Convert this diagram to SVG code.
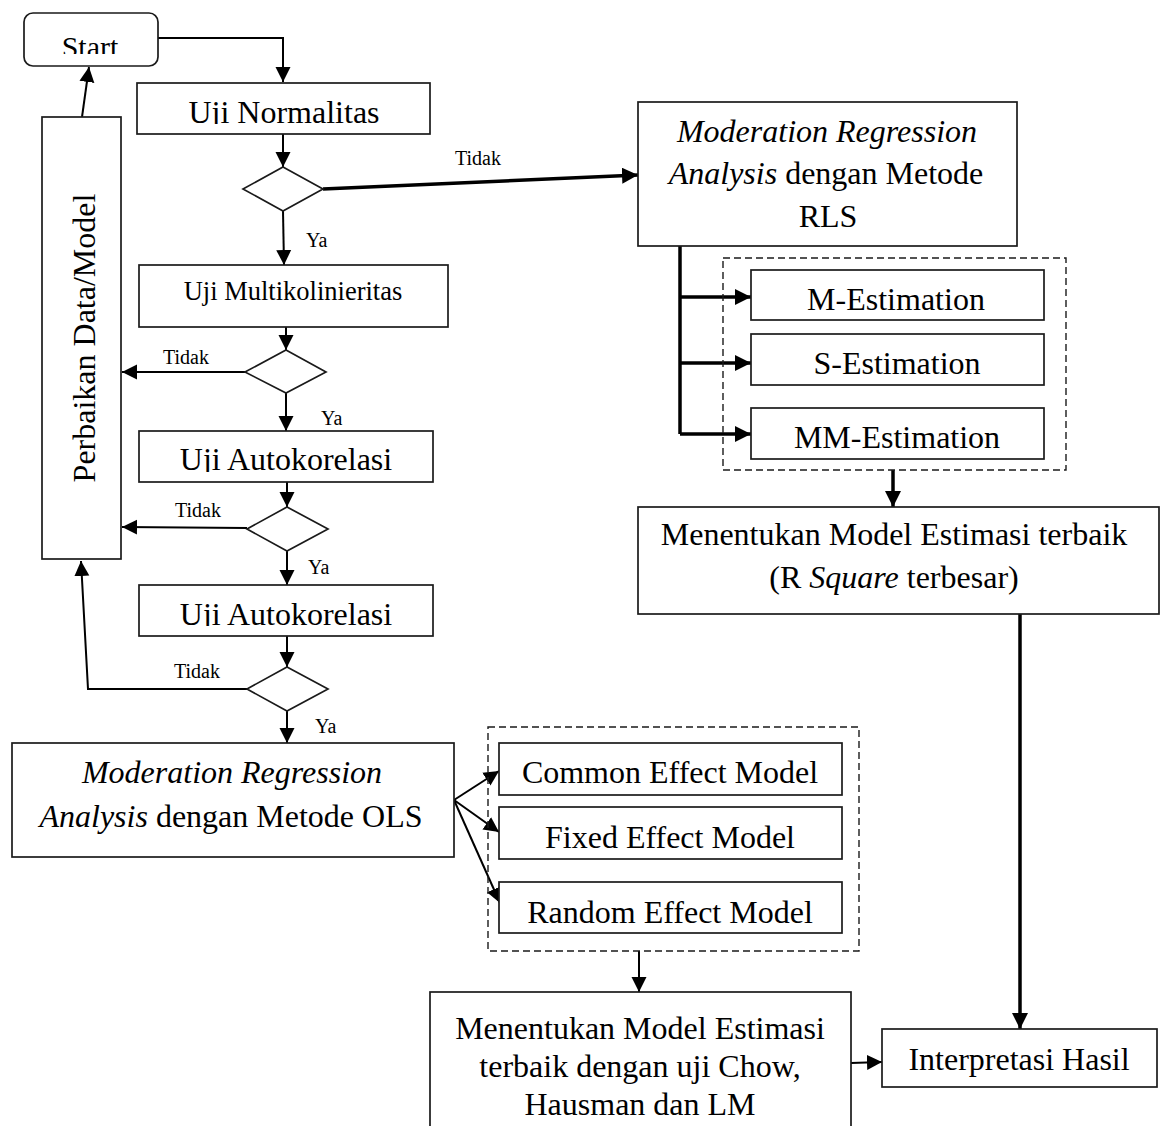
<svg xmlns="http://www.w3.org/2000/svg" width="1161" height="1126" viewBox="0 0 1161 1126">
<style>
.box{fill:#fff;stroke:#1a1a1a;stroke-width:1.7}
.dash{fill:none;stroke:#1a1a1a;stroke-width:1.4;stroke-dasharray:7 4}
.t{font-family:"Liberation Serif","Times New Roman",serif;font-size:32px;fill:#000;text-anchor:middle}
.s{font-family:"Liberation Serif","Times New Roman",serif;font-size:20px;fill:#000}
.ln{fill:none;stroke:#000;stroke-width:2}
.th{fill:none;stroke:#000;stroke-width:3.5}
.i{font-style:italic}
</style>
<defs>
<marker id="ah" viewBox="0 0 10 10" refX="10" refY="5" markerWidth="15" markerHeight="16" markerUnits="userSpaceOnUse" orient="auto"><path d="M0,0 L10,5 L0,10 z" fill="#000"/></marker>
<marker id="ahb" viewBox="0 0 10 10" refX="10" refY="5" markerWidth="16" markerHeight="16" markerUnits="userSpaceOnUse" orient="auto"><path d="M0,0 L10,5 L0,10 z" fill="#000"/></marker>
<clipPath id="cStart"><rect x="24" y="13" width="134" height="41"/></clipPath>
<clipPath id="cN"><rect x="137" y="83" width="293" height="41"/></clipPath>
<clipPath id="cA1"><rect x="139" y="431" width="294" height="41"/></clipPath>
<clipPath id="cA2"><rect x="139" y="585" width="294" height="41"/></clipPath>
</defs>

<g id="connectors">
<path class="ln" d="M153,38 H283 V82" marker-end="url(#ah)"/>
<line class="ln" x1="82" y1="117" x2="89" y2="67" marker-end="url(#ah)"/>
<line class="ln" x1="283" y1="134" x2="283" y2="167" marker-end="url(#ah)"/>
<line class="th" x1="323" y1="189" x2="638" y2="175" marker-end="url(#ahb)"/>
<text class="s" x="455" y="165">Tidak</text>
<line class="ln" x1="283" y1="211" x2="284" y2="265" marker-end="url(#ah)"/>
<text class="s" x="306" y="247">Ya</text>
<line class="ln" x1="286" y1="322" x2="286" y2="350" marker-end="url(#ah)"/>
<line class="ln" x1="245" y1="372" x2="122" y2="372" marker-end="url(#ah)"/>
<text class="s" x="163" y="364">Tidak</text>
<line class="ln" x1="286" y1="393" x2="286" y2="431" marker-end="url(#ah)"/>
<text class="s" x="321" y="425">Ya</text>
<line class="ln" x1="287" y1="482" x2="287" y2="507" marker-end="url(#ah)"/>
<line class="ln" x1="247" y1="528" x2="122" y2="527" marker-end="url(#ah)"/>
<text class="s" x="175" y="517">Tidak</text>
<line class="ln" x1="287" y1="551" x2="287" y2="585" marker-end="url(#ah)"/>
<text class="s" x="308" y="574">Ya</text>
<line class="ln" x1="287" y1="636" x2="287" y2="667" marker-end="url(#ah)"/>
<path class="ln" d="M247,689 H88 L81,561" marker-end="url(#ah)"/>
<text class="s" x="174" y="678">Tidak</text>
<line class="ln" x1="287" y1="711" x2="287" y2="743" marker-end="url(#ah)"/>
<text class="s" x="315" y="733">Ya</text>
<line class="ln" x1="454" y1="800" x2="499" y2="771" marker-end="url(#ah)"/>
<line class="ln" x1="454" y1="800" x2="499" y2="832" marker-end="url(#ah)"/>
<line class="ln" x1="454" y1="800" x2="500" y2="903" marker-end="url(#ah)"/>
<line class="ln" x1="639" y1="951" x2="639" y2="992" marker-end="url(#ah)"/>
<line class="ln" x1="851" y1="1063" x2="882" y2="1062" marker-end="url(#ah)"/>
<path class="th" d="M680,246 V434"/>
<line class="th" x1="680" y1="297" x2="751" y2="297" marker-end="url(#ahb)"/>
<line class="th" x1="680" y1="363" x2="751" y2="363" marker-end="url(#ahb)"/>
<line class="th" x1="680" y1="434" x2="751" y2="434" marker-end="url(#ahb)"/>
<line class="th" x1="893" y1="470" x2="893" y2="507" marker-end="url(#ahb)"/>
<line class="th" x1="1020" y1="614" x2="1020" y2="1029" marker-end="url(#ahb)"/>
</g>

<g id="start">
<rect class="box" x="24" y="13" width="134" height="53" rx="9"/>
<text class="t" x="90" y="57" clip-path="url(#cStart)" style="font-size:30px">Start</text>
</g>
<g id="perbaikan">
<rect class="box" x="42" y="117" width="79" height="442"/>
<text class="t" transform="translate(95,338) rotate(-90)">Perbaikan Data/Model</text>
</g>
<g id="uji-normalitas">
<rect class="box" x="137" y="83" width="293" height="51"/>
<text class="t" x="284" y="123" clip-path="url(#cN)">Uji Normalitas</text>
</g>
<g id="dec1"><polygon class="box" points="283,167 323,189 283,211 243,189"/></g>
<g id="uji-multi">
<rect class="box" x="139" y="265" width="309" height="62"/>
<text class="t" x="293" y="300" style="font-size:26.5px">Uji Multikolinieritas</text>
</g>
<g id="dec2"><polygon class="box" points="286,350 326,372 286,393 245,372"/></g>
<g id="uji-auto1">
<rect class="box" x="139" y="431" width="294" height="51"/>
<text class="t" x="286" y="470" clip-path="url(#cA1)">Uji Autokorelasi</text>
</g>
<g id="dec3"><polygon class="box" points="287,507 328,529 287,551 247,529"/></g>
<g id="uji-auto2">
<rect class="box" x="139" y="585" width="294" height="51"/>
<text class="t" x="286" y="625" clip-path="url(#cA2)">Uji Autokorelasi</text>
</g>
<g id="dec4"><polygon class="box" points="287,667 328,689 287,711 247,689"/></g>
<g id="ols">
<rect class="box" x="12" y="743" width="442" height="114"/>
<text class="t" x="232" y="783"><tspan class="i">Moderation Regression</tspan></text>
<text class="t" x="231" y="827"><tspan class="i">Analysis</tspan> dengan Metode OLS</text>
</g>
<g id="panel-group">
<rect class="dash" x="488" y="727" width="371" height="224"/>
</g>
<g id="common">
<rect class="box" x="499" y="743" width="343" height="52"/>
<text class="t" x="670" y="783">Common Effect Model</text>
</g>
<g id="fixed">
<rect class="box" x="499" y="807" width="343" height="52"/>
<text class="t" x="670" y="848">Fixed Effect Model</text>
</g>
<g id="random">
<rect class="box" x="499" y="882" width="343" height="51"/>
<text class="t" x="670" y="923">Random Effect Model</text>
</g>
<g id="menentukan2">
<rect class="box" x="430" y="992" width="421" height="140"/>
<text class="t" x="640" y="1039">Menentukan Model Estimasi</text>
<text class="t" x="640" y="1077">terbaik dengan uji Chow,</text>
<text class="t" x="640" y="1115">Hausman dan LM</text>
</g>
<g id="interpretasi">
<rect class="box" x="882" y="1029" width="275" height="58"/>
<text class="t" x="1019" y="1070">Interpretasi Hasil</text>
</g>
<g id="rls">
<rect class="box" x="638" y="102" width="379" height="144"/>
<text class="t" x="827" y="142"><tspan class="i">Moderation Regression</tspan></text>
<text class="t" x="826" y="184"><tspan class="i">Analysis</tspan> dengan Metode</text>
<text class="t" x="828" y="227">RLS</text>
</g>
<g id="robust-group">
<rect class="dash" x="723" y="258" width="343" height="212"/>
</g>
<g id="m-est">
<rect class="box" x="751" y="270" width="293" height="50"/>
<text class="t" x="896" y="310">M-Estimation</text>
</g>
<g id="s-est">
<rect class="box" x="751" y="334" width="293" height="51"/>
<text class="t" x="897" y="374">S-Estimation</text>
</g>
<g id="mm-est">
<rect class="box" x="751" y="408" width="293" height="51"/>
<text class="t" x="897" y="448">MM-Estimation</text>
</g>
<g id="menentukan1">
<rect class="box" x="638" y="507" width="521" height="107"/>
<text class="t" x="894" y="545">Menentukan Model Estimasi terbaik</text>
<text class="t" x="894" y="588">(R <tspan class="i">Square</tspan> terbesar)</text>
</g>
</svg>
